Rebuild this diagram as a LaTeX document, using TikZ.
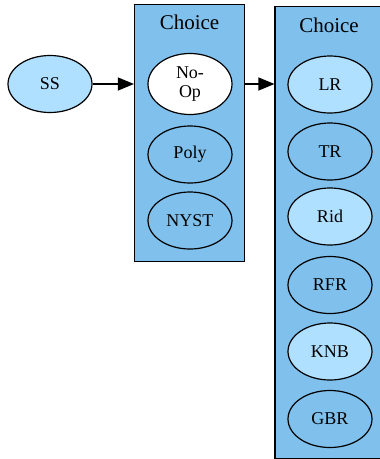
\documentclass[tikz,border=0pt]{standalone}
\usepackage{fontspec}
\setmainfont{Liberation Serif}
\usetikzlibrary{arrows.meta,shapes.geometric}
\definecolor{boxfill}{HTML}{80C0EC}
\definecolor{lightnode}{HTML}{B0E0FF}
\tikzset{
  op/.style={ellipse, draw=black, line width=1.2pt, minimum width=84pt, minimum height=57pt, inner sep=0pt, font=\fontsize{18}{19.5}\selectfont, align=center},
  lightop/.style={op, fill=lightnode},
  darkop/.style={op, fill=boxfill},
  whiteop/.style={op, fill=white},
  choicebox/.style={draw=black, line width=1.1pt, fill=boxfill},
  choicelabel/.style={font=\fontsize{21}{24}\selectfont, inner sep=0pt},
  link/.style={line width=1.1pt, -{Triangle[length=16pt, width=13pt]}}
}
\begin{document}
\begin{tikzpicture}[x=1pt, y=-1pt]
\useasboundingbox (0,0) rectangle (380,459);
% clusters
\node[choicebox, minimum width=110pt, minimum height=257pt, inner sep=0pt] (box1) at (189.5,133.2) {};
\node[choicebox, minimum width=107pt, minimum height=452pt, inner sep=0pt] (box2) at (328.5,232.7) {};
\node[choicelabel] (lab1) at (189.5,22.5) {Choice};
\node[choicelabel] (lab2) at (329,25) {Choice};
% nodes
\node[lightop] (ss) at (50,84) {SS};
\node[whiteop, minimum height=61pt] (noop) at (190,84) {No-\\Op};
\node[darkop] (poly) at (190,154.5) {Poly};
\node[darkop] (nyst) at (190,220.5) {NYST};
\node[lightop] (lr) at (330,84.5) {LR};
\node[darkop] (tr) at (330,151.5) {TR};
\node[lightop] (rid) at (330,216.5) {Rid};
\node[darkop] (rfr) at (330,285) {RFR};
\node[lightop] (knb) at (330,351.5) {KNB};
\node[darkop] (gbr) at (330,419) {GBR};
% connectors
\draw[link] (ss.east) -- (ss.east -| box1.west);
\draw[link] (noop.east -| box1.east) -- (noop.east -| box2.west);
\end{tikzpicture}
\end{document}
